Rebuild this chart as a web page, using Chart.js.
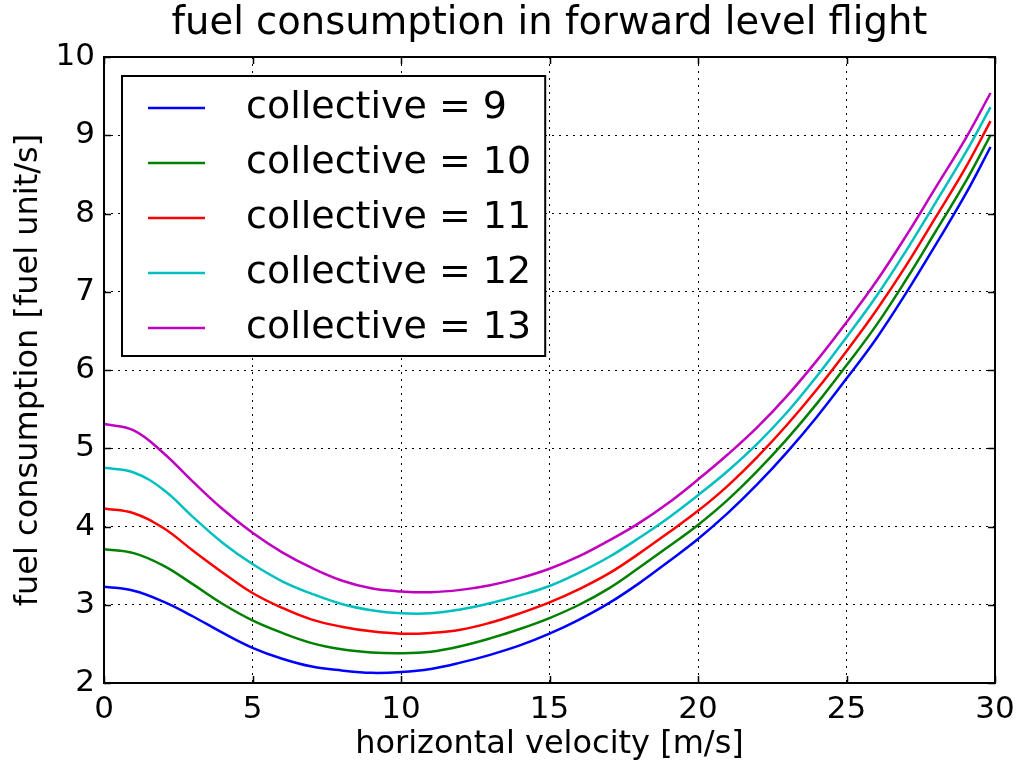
<!DOCTYPE html>
<html>
<head>
    <title>fuel consumption in forward level flight</title>
    <script src="https://cdn.jsdelivr.net/npm/chart.js"></script>
    <style>
        body { margin: 0; background: #fff; }
        #wrap { width: 1026px; height: 767px; }
    </style>
</head>
<body>
    <div id="wrap">
        <canvas id="fuelchart" width="1026" height="767"></canvas>
    </div>

    <script>
        const velocity = [0, 1, 2, 3, 4, 5, 6, 7, 8, 9, 10, 11, 12, 13, 14, 15, 16, 17, 18, 19, 20, 21, 22, 23, 24, 25, 26, 27, 28, 29, 29.85];
        // fuel consumption per collective setting
        const collective9  = [3.23, 3.18, 3.04, 2.85, 2.64, 2.45, 2.31, 2.21, 2.16, 2.13, 2.14, 2.18, 2.26, 2.36, 2.48, 2.63, 2.81, 3.02, 3.27, 3.55, 3.84, 4.17, 4.54, 4.95, 5.40, 5.89, 6.40, 6.98, 7.60, 8.24, 8.85];
        const collective10 = [3.71, 3.66, 3.50, 3.26, 3.01, 2.80, 2.64, 2.51, 2.43, 2.39, 2.38, 2.40, 2.47, 2.57, 2.69, 2.83, 3.00, 3.21, 3.47, 3.74, 4.02, 4.34, 4.71, 5.12, 5.57, 6.06, 6.57, 7.15, 7.77, 8.40, 9.00];
        const collective11 = [4.23, 4.17, 3.98, 3.69, 3.41, 3.15, 2.96, 2.81, 2.72, 2.66, 2.63, 2.64, 2.68, 2.77, 2.89, 3.03, 3.20, 3.40, 3.65, 3.92, 4.20, 4.52, 4.89, 5.30, 5.75, 6.24, 6.76, 7.33, 7.95, 8.58, 9.18];
        const collective12 = [4.75, 4.69, 4.47, 4.12, 3.79, 3.52, 3.30, 3.14, 3.01, 2.93, 2.89, 2.89, 2.94, 3.02, 3.12, 3.24, 3.41, 3.61, 3.85, 4.11, 4.40, 4.71, 5.06, 5.46, 5.92, 6.42, 6.94, 7.52, 8.14, 8.77, 9.36];
        const collective13 = [5.31, 5.23, 4.94, 4.57, 4.22, 3.92, 3.67, 3.47, 3.31, 3.21, 3.17, 3.16, 3.19, 3.25, 3.34, 3.46, 3.62, 3.82, 4.04, 4.30, 4.60, 4.92, 5.27, 5.67, 6.12, 6.61, 7.13, 7.71, 8.33, 8.95, 9.54];

        const seriesLabels = ['collective = 9', 'collective = 10', 'collective = 11', 'collective = 12', 'collective = 13'];
        const seriesData = [collective9, collective10, collective11, collective12, collective13];
        const seriesColors = ['#0000ff', '#008000', '#ff0000', '#00bfbf', '#bf00bf'];
        const chartTitle = 'fuel consumption in forward level flight';

        const FONT = "'DejaVu Sans', sans-serif";

        // title centred over the plot, frame, inward tick marks and the boxed legend
        const framePlugin = {
            id: 'frame',
            afterDraw(chart) {
                const ctx = chart.ctx;
                const a = chart.chartArea;
                const xs = chart.scales.x, ys = chart.scales.y;
                ctx.save();

                ctx.fillStyle = '#000';
                ctx.font = '38.5px ' + FONT;
                ctx.textAlign = 'center';
                ctx.textBaseline = 'middle';
                ctx.fillText(chartTitle, (a.left + a.right) / 2, 24);

                ctx.strokeStyle = '#000';
                ctx.lineWidth = 1.5;
                ctx.beginPath();
                xs.ticks.forEach(t => {
                    const px = Math.round(xs.getPixelForValue(t.value)) + 0.5;
                    ctx.moveTo(px, a.bottom); ctx.lineTo(px, a.bottom - 7);
                    ctx.moveTo(px, a.top); ctx.lineTo(px, a.top + 7);
                });
                ys.ticks.forEach(t => {
                    const py = Math.round(ys.getPixelForValue(t.value)) + 0.5;
                    ctx.moveTo(a.left, py); ctx.lineTo(a.left + 7, py);
                    ctx.moveTo(a.right, py); ctx.lineTo(a.right - 7, py);
                });
                ctx.stroke();
                ctx.lineWidth = 2;
                ctx.strokeRect(a.left, a.top, a.right - a.left, a.bottom - a.top);

                // legend
                ctx.font = '38px ' + FONT;
                let maxW = 0;
                chart.data.datasets.forEach(d => { maxW = Math.max(maxW, ctx.measureText(d.label).width); });
                const bx = a.left + 18, by = a.top + 19;
                const bw = 124 + maxW + 14, bh = 280;
                ctx.fillStyle = '#fff';
                ctx.fillRect(bx, by, bw, bh);
                ctx.strokeStyle = '#000';
                ctx.lineWidth = 2;
                ctx.strokeRect(bx, by, bw, bh);
                ctx.textBaseline = 'middle';
                ctx.textAlign = 'left';
                chart.data.datasets.forEach((d, i) => {
                    const cy = by + 32 + i * 55;
                    ctx.strokeStyle = d.borderColor;
                    ctx.lineWidth = 2.5;
                    ctx.beginPath();
                    ctx.moveTo(bx + 26, cy); ctx.lineTo(bx + 83, cy);
                    ctx.stroke();
                    ctx.fillStyle = '#000';
                    ctx.fillText(d.label, bx + 124, cy);
                });
                ctx.restore();
            }
        };

        const ctxFuel = document.getElementById('fuelchart').getContext('2d');
        const fuelChart = new Chart(ctxFuel, {
            type: 'line',
            data: {
                datasets: seriesData.map((vals, i) => ({
                    label: seriesLabels[i],
                    data: vals.map((v, j) => ({ x: velocity[j], y: v })),
                    borderColor: seriesColors[i],
                    backgroundColor: seriesColors[i],
                    borderWidth: 2.5,
                    pointRadius: 0,
                    tension: 0.4,
                    fill: false
                }))
            },
            options: {
                responsive: false,
                animation: false,
                layout: { padding: { left: 0, right: 31, top: 57, bottom: 0 } },
                plugins: {
                    legend: { display: false },
                    tooltip: { enabled: false },
                    title: { display: false }
                },
                scales: {
                    x: {
                        type: 'linear',
                        min: 0,
                        max: 30,
                        afterFit: s => { s.height = 84; },
                        ticks: { stepSize: 5, color: '#000', padding: 8, font: { family: FONT, size: 31 } },
                        grid: { color: '#000', lineWidth: 1, drawTicks: false },
                        border: { display: false, dash: [2, 5] },
                        title: {
                            display: true,
                            text: 'horizontal velocity [m/s]',
                            color: '#000',
                            font: { family: FONT, size: 32 },
                            padding: { top: 0, bottom: 3 }
                        }
                    },
                    y: {
                        min: 2,
                        max: 10,
                        afterFit: s => { s.width = 104; },
                        ticks: { stepSize: 1, color: '#000', padding: 9, font: { family: FONT, size: 31 } },
                        grid: { color: '#000', lineWidth: 1, drawTicks: false },
                        border: { display: false, dash: [2, 5] },
                        title: {
                            display: true,
                            text: 'fuel consumption [fuel unit/s]',
                            color: '#000',
                            font: { family: FONT, size: 32 },
                            padding: { top: 9, bottom: 0 }
                        }
                    }
                }
            },
            plugins: [framePlugin]
        });
    </script>
</body>
</html>
